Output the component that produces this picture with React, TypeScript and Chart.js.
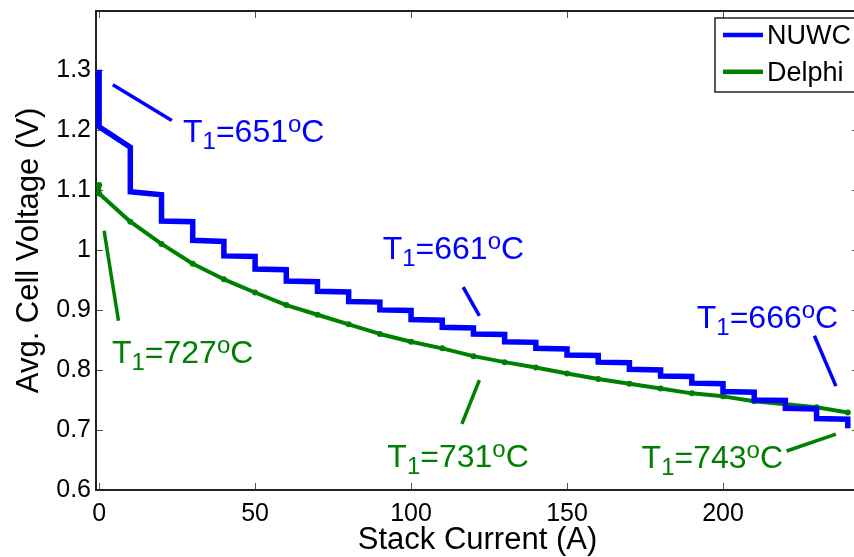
import React, { useEffect, useRef } from "react";
import { Chart, registerables } from "chart.js";

Chart.register(...registerables);

// ---------- data ----------
const nuwcCurrent = [
  0, 0, 10, 10, 20, 20, 30, 30, 40, 40, 50, 50, 60, 60, 70, 70, 80, 80, 90, 90,
  100, 100, 110, 110, 120, 120, 130, 130, 140, 140, 150, 150, 160, 160, 170, 170,
  180, 180, 190, 190, 200, 200, 210, 210, 220, 220, 230, 230, 240, 240,
];
const nuwcVoltage = [
  1.3, 1.205, 1.171, 1.097, 1.092, 1.048, 1.047, 1.016, 1.014, 0.99, 0.989, 0.968,
  0.967, 0.948, 0.947, 0.931, 0.93, 0.914, 0.913, 0.9, 0.899, 0.884, 0.883, 0.871,
  0.87, 0.86, 0.859, 0.847, 0.846, 0.836, 0.835, 0.825, 0.824, 0.813, 0.812, 0.801,
  0.8, 0.79, 0.789, 0.778, 0.777, 0.764, 0.763, 0.75, 0.749, 0.736, 0.735, 0.719,
  0.718, 0.703,
];
const delphiCurrent = [
  0, 0, 10, 20, 30, 40, 50, 60, 70, 80, 90, 100, 110, 120, 130, 140, 150, 160, 170,
  180, 190, 200, 210, 220, 230, 240,
];
const delphiVoltage = [
  1.108, 1.094, 1.047, 1.01, 0.977, 0.951, 0.929, 0.908, 0.892, 0.876, 0.86, 0.847,
  0.836, 0.823, 0.813, 0.804, 0.794, 0.785, 0.777, 0.769, 0.761, 0.756, 0.748, 0.743,
  0.738, 0.729,
];
const seriesNames = ["NUWC", "Delphi"];

const xTickValues = [0, 50, 100, 150, 200];
const xTickLabels = ["0", "50", "100", "150", "200"];
const yTickValues = [0.6, 0.7, 0.8, 0.9, 1.0, 1.1, 1.2, 1.3];
const yTickLabels = ["0.6", "0.7", "0.8", "0.9", "1", "1.1", "1.2", "1.3"];

// annotations (data coordinates)
const annoTemps = ["651", "661", "666", "727", "731", "743"];
const annoSeries = [0, 0, 0, 1, 1, 1];
const annoLineStart = [
  [4.4, 1.275], [116.7, 0.938], [229.3, 0.857], [1.6, 1.032], [121.9, 0.783], [220.4, 0.665],
];
const annoLineEnd = [
  [23.3, 1.2155], [121.9, 0.89], [236.2, 0.773], [6.2, 0.882], [116.3, 0.71], [236.2, 0.693],
];
const annoTextPos = [
  [26.9, 1.179], [90.9, 0.9845], [191.6, 0.8695], [4.1, 0.8122], [92.4, 0.6388], [173.9, 0.6362],
];

const BLUE = "#0000ff";
const GREEN = "#008000";
const FONT = '"Liberation Sans", Arial, Helvetica, sans-serif';
const seriesColors = [BLUE, GREEN];

const framePlugin = {
  id: "frameTicks",
  beforeDatasetsDraw(chart: any) {
    const { ctx, chartArea: a, scales } = chart;
    ctx.save();
    ctx.strokeStyle = "#555";
    ctx.lineWidth = 1;
    const tl = 7;
    scales.x.ticks.forEach((t: any) => {
      const px = Math.round(scales.x.getPixelForValue(t.value)) + 0.5;
      ctx.beginPath();
      ctx.moveTo(px, a.bottom);
      ctx.lineTo(px, a.bottom - tl);
      ctx.moveTo(px, a.top);
      ctx.lineTo(px, a.top + tl);
      ctx.stroke();
    });
    scales.y.ticks.forEach((t: any) => {
      const py = Math.round(scales.y.getPixelForValue(t.value)) + 0.5;
      ctx.beginPath();
      ctx.moveTo(a.left, py);
      ctx.lineTo(a.left + tl, py);
      ctx.moveTo(a.right, py);
      ctx.lineTo(a.right - tl, py);
      ctx.stroke();
    });
    ctx.strokeStyle = "#222";
    ctx.lineWidth = 2;
    ctx.strokeRect(a.left, a.top, a.right - a.left, a.bottom - a.top);
    ctx.restore();
  },
};

const annotationPlugin = {
  id: "tempLabels",
  afterDatasetsDraw(chart: any) {
    const { ctx, scales } = chart;
    const xs = scales.x;
    const ys = scales.y;
    ctx.save();
    annoTemps.forEach((temp, i) => {
      const color = seriesColors[annoSeries[i]];
      ctx.strokeStyle = color;
      ctx.lineWidth = 3.5;
      ctx.lineCap = "butt";
      ctx.beginPath();
      ctx.moveTo(xs.getPixelForValue(annoLineStart[i][0]), ys.getPixelForValue(annoLineStart[i][1]));
      ctx.lineTo(xs.getPixelForValue(annoLineEnd[i][0]), ys.getPixelForValue(annoLineEnd[i][1]));
      ctx.stroke();

      let x = xs.getPixelForValue(annoTextPos[i][0]);
      const y = ys.getPixelForValue(annoTextPos[i][1]);
      const main = `32px ${FONT}`;
      const small = `24px ${FONT}`;
      ctx.fillStyle = color;
      ctx.textBaseline = "alphabetic";
      ctx.textAlign = "left";
      const parts: [string, string, number][] = [
        ["T", main, 0],
        ["1", small, 7],
        ["=" + temp, main, 0],
        ["o", small, -10],
        ["C", main, 0],
      ];
      parts.forEach(([txt, f, dy]) => {
        ctx.font = f;
        ctx.fillText(txt, x, y + dy);
        x += ctx.measureText(txt).width;
      });
    });
    ctx.restore();
  },
};

const legendPlugin = {
  id: "boxLegend",
  afterDraw(chart: any) {
    const { ctx, chartArea: a } = chart;
    const x0 = a.right - 144;
    const y0 = a.top + 7;
    ctx.save();
    ctx.fillStyle = "#fff";
    ctx.fillRect(x0, y0, 170, 74);
    ctx.strokeStyle = "#222";
    ctx.lineWidth = 1.5;
    ctx.strokeRect(x0, y0, 170, 74);
    chart.data.datasets.forEach((ds: any, i: number) => {
      const ly = y0 + 17 + i * 36.7;
      ctx.strokeStyle = ds.borderColor;
      ctx.lineWidth = 4.5;
      ctx.beginPath();
      ctx.moveTo(x0 + 8, ly);
      ctx.lineTo(x0 + 48, ly);
      ctx.stroke();
      ctx.fillStyle = "#000";
      ctx.font = `27px ${FONT}`;
      ctx.textBaseline = "middle";
      ctx.textAlign = "left";
      ctx.fillText(ds.label, x0 + 52, ly + 1.5);
    });
    ctx.restore();
  },
};

const zeroPad = (s: any) => {
  s.paddingTop = 0;
  s.paddingBottom = 0;
  s.paddingLeft = 0;
  s.paddingRight = 0;
};

export default function App() {
  const ref = useRef<HTMLCanvasElement | null>(null);

  useEffect(() => {
    if (!ref.current) return;
    const chart = new Chart(ref.current, {
      type: "line",
      data: {
        datasets: [
          {
            label: seriesNames[0],
            data: nuwcCurrent.map((x, i) => ({ x, y: nuwcVoltage[i] })),
            borderColor: BLUE,
            backgroundColor: BLUE,
            borderWidth: 5.5,
            pointRadius: 0,
            tension: 0,
            borderJoinStyle: "miter",
            borderCapStyle: "butt",
          },
          {
            label: seriesNames[1],
            data: delphiCurrent.map((x, i) => ({ x, y: delphiVoltage[i] })),
            borderColor: GREEN,
            backgroundColor: GREEN,
            borderWidth: 4,
            pointRadius: 3,
            pointBorderWidth: 0,
            pointBackgroundColor: GREEN,
            tension: 0,
            borderJoinStyle: "round",
          },
        ],
      },
      options: {
        animation: false,
        responsive: false,
        devicePixelRatio: 1,
        layout: { padding: { left: 0, top: 11, right: 11, bottom: 0 } },
        plugins: { legend: { display: false }, tooltip: { enabled: false } },
        scales: {
          x: {
            type: "linear",
            min: -1,
            max: 243.6,
            afterBuildTicks: (s: any) => {
              s.ticks = xTickValues.map((v) => ({ value: v }));
            },
            afterFit: (s: any) => {
              s.height = 67;
              zeroPad(s);
            },
            grid: { display: false, drawTicks: false },
            border: { display: false },
            ticks: {
              autoSkip: false,
              maxRotation: 0,
              padding: 9,
              color: "#000",
              font: { family: FONT, size: 25 },
              callback: (_v: any, i: number) => xTickLabels[i],
            },
            title: {
              display: true,
              text: "Stack Current (A)",
              color: "#000",
              font: { family: FONT, size: 31, lineHeight: 1 },
              padding: { top: 0, bottom: 1 },
            },
          },
          y: {
            type: "linear",
            min: 0.6,
            max: 1.398,
            afterBuildTicks: (s: any) => {
              s.ticks = yTickValues.map((v) => ({ value: v }));
            },
            afterFit: (s: any) => {
              s.width = 96;
              zeroPad(s);
            },
            grid: { display: false, drawTicks: false },
            border: { display: false },
            ticks: {
              padding: 5,
              color: "#000",
              font: { family: FONT, size: 25 },
              callback: (_v: any, i: number) => yTickLabels[i],
            },
            title: {
              display: true,
              text: "Avg. Cell Voltage (V)",
              color: "#000",
              font: { family: FONT, size: 31, lineHeight: 1.2 },
              padding: { top: 11, bottom: 0 },
            },
          },
        },
      },
      plugins: [framePlugin, annotationPlugin, legendPlugin],
    } as any);
    return () => chart.destroy();
  }, []);

  return (
    <div
      style={{
        position: "fixed",
        left: 0,
        top: 0,
        width: 854,
        height: 557,
        overflow: "hidden",
        background: "#fff",
      }}
    >
      <canvas ref={ref} width={870} height={557} style={{ width: 870, height: 557, display: "block" }} />
    </div>
  );
}
